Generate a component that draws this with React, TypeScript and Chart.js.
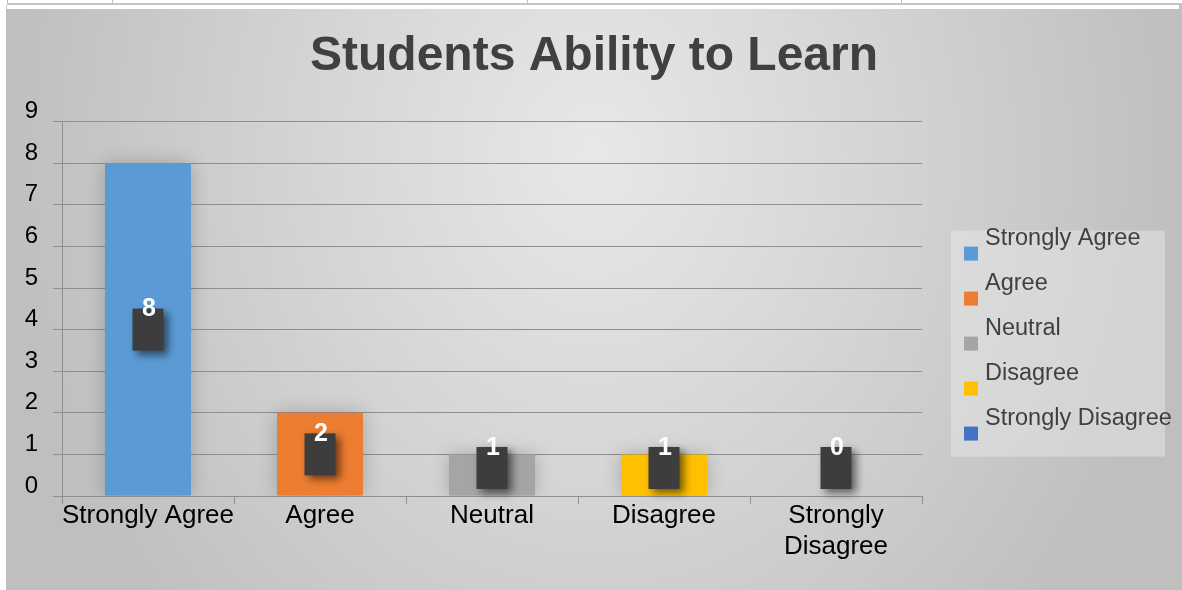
import React, { useEffect, useRef } from "react";
import { Chart, registerables } from "chart.js";

Chart.register(...registerables);

const titleText = "Students Ability to Learn";
const categories = ["Strongly Agree", "Agree", "Neutral", "Disagree", "Strongly Disagree"];
const values = [8, 2, 1, 1, 0];
const barColors = ["#5B9BD5", "#ED7D31", "#A5A5A5", "#FFC000", "#4472C4"];
const yMin = 0;
const yMax = 9;
const yStep = 1;

const FONT = "'Liberation Sans', Arial, sans-serif";
const GRID = "#8f8f8f";

const barShadowPlugin = {
  id: "barShadow",
  beforeDatasetsDraw(chart: any) {
    const ctx = chart.ctx;
    ctx.save();
    ctx.shadowColor = "rgba(0,0,0,0.22)";
    ctx.shadowBlur = 18;
  },
  afterDatasetsDraw(chart: any) {
    const ctx = chart.ctx;
    ctx.restore();
    // data labels
    const meta = chart.getDatasetMeta(0);
    const y = chart.scales.y;
    const data = chart.data.datasets[0].data as number[];
    const boxW = 31;
    const boxH = 42;
    data.forEach((v, i) => {
      const el = meta.data[i];
      if (!el) return;
      const cx = el.x;
      let cy = y.getPixelForValue(v / 2);
      const limit = y.getPixelForValue(0) - 7 - boxH / 2;
      cy = Math.min(cy, limit);
      const left = cx - boxW / 2;
      const top = cy - boxH / 2;
      ctx.save();
      ctx.shadowColor = "rgba(0,0,0,0.55)";
      ctx.shadowBlur = 8;
      ctx.shadowOffsetX = 4;
      ctx.shadowOffsetY = 4;
      ctx.fillStyle = "#3d3d3d";
      ctx.fillRect(left, top, boxW, boxH);
      ctx.restore();
      ctx.save();
      ctx.fillStyle = "#ffffff";
      ctx.font = `bold 25px ${FONT}`;
      ctx.textAlign = "center";
      ctx.textBaseline = "middle";
      ctx.fillText(String(v), cx + 1, top + 1);
      ctx.restore();
    });
  },
};

const sideLegendPlugin = {
  id: "sideLegend",
  afterDraw(chart: any) {
    const ctx = chart.ctx;
    const left = chart.chartArea.right + 29;
    const top = chart.chartArea.top + 109;
    ctx.save();
    ctx.fillStyle = "rgba(236,236,236,0.45)";
    ctx.fillRect(left, top, 214, 226);
    ctx.font = `23.5px ${FONT}`;
    ctx.textAlign = "left";
    ctx.textBaseline = "alphabetic";
    categories.forEach((c, i) => {
      const sqTop = top + 16 + i * 45;
      ctx.fillStyle = barColors[i];
      ctx.fillRect(left + 13, sqTop, 14, 14);
      ctx.fillStyle = "#404040";
      ctx.fillText(c, left + 34, sqTop - 2);
    });
    ctx.restore();
  },
};

export default function App() {
  const ref = useRef<HTMLCanvasElement | null>(null);

  useEffect(() => {
    if (!ref.current) return;
    const chart = new Chart(ref.current, {
      type: "bar",
      data: {
        labels: categories,
        datasets: [
          {
            data: values,
            backgroundColor: barColors,
            borderWidth: 0,
            categoryPercentage: 1,
            barPercentage: 0.5,
          },
        ],
      },
      options: {
        responsive: false,
        animation: false,
        layout: { padding: 0 },
        plugins: {
          legend: { display: false },
          tooltip: { enabled: false },
          title: {
            display: true,
            text: titleText,
            color: "#404040",
            font: { family: FONT, size: 48, weight: "bold" },
            padding: { top: 19, bottom: 36 },
          },
        },
        scales: {
          x: {
            grid: {
              display: true,
              drawOnChartArea: false,
              drawTicks: true,
              tickLength: 8,
              color: GRID,
              offset: true,
            },
            border: { display: true, color: GRID },
            ticks: {
              color: "#000000",
              font: { family: FONT, size: 26 },
              padding: -4,
              maxRotation: 0,
              autoSkip: false,
              callback: (_v: any, i: number) => {
                const s = categories[i];
                return s.length > 15 ? s.split(" ") : s;
              },
            },
            afterFit: (s: any) => {
              s.height = 94;
            },
          },
          y: {
            min: yMin,
            max: yMax,
            ticks: {
              stepSize: yStep,
              color: "#000000",
              font: { family: FONT, size: 24 },
              padding: 15,
              labelOffset: -10,
            },
            grid: { color: GRID, tickLength: 9, drawTicks: true },
            border: { display: true, color: GRID },
            afterFit: (s: any) => {
              s.width = 56;
            },
          },
          yRight: {
            position: "right",
            display: true,
            grid: { display: false },
            border: { display: false },
            ticks: { display: false },
            afterFit: (s: any) => {
              s.width = 260;
            },
          },
        },
      } as any,
      plugins: [barShadowPlugin, sideLegendPlugin],
    });
    return () => chart.destroy();
  }, []);

  const vLine = (x: number) => (
    <div
      key={x}
      style={{ position: "absolute", left: x, top: 0, width: 1, height: 4, background: "#bfbfbf" }}
    />
  );

  return (
    <div
      style={{
        position: "fixed",
        left: 0,
        top: 0,
        width: 1182,
        height: 590,
        background: "#ffffff",
        overflow: "hidden",
      }}
    >
      <div style={{ position: "absolute", left: 7, top: 3, width: 1175, height: 2, background: "#c4c4c4" }} />
      {[7, 112, 527, 901].map(vLine)}
      <div style={{ position: "absolute", left: 6, top: 5, width: 1, height: 5, background: "#c4c4c4" }} />
      <div style={{ position: "absolute", left: 1179, top: 5, width: 3, height: 5, background: "#c4c4c4" }} />
      <div
        style={{
          position: "absolute",
          left: 6,
          top: 9,
          width: 1176,
          height: 581,
          background:
            "radial-gradient(ellipse 50% 120% at 50% 25%, #e8e8e8 0%, #d4d4d4 50%, #bfbfbf 100%)",
        }}
      >
        <canvas ref={ref} width={1176} height={581} style={{ display: "block" }} />
      </div>
    </div>
  );
}
